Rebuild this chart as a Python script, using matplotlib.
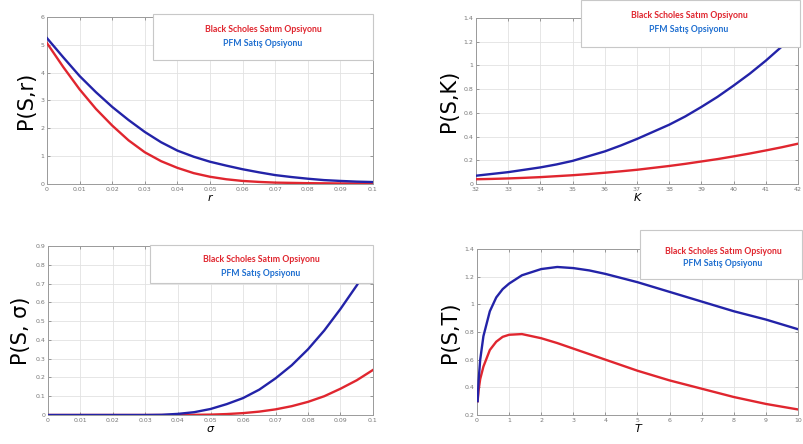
import matplotlib.pyplot as plt
from matplotlib.patches import Rectangle

W, H = 804, 444

# --- data ---
r_vals = [0, 0.005, 0.01, 0.015, 0.02, 0.025, 0.03, 0.035, 0.04, 0.045, 0.05,
          0.055, 0.06, 0.065, 0.07, 0.075, 0.08, 0.085, 0.09, 0.095, 0.1]
bs_r = [5.06, 4.2, 3.4, 2.7, 2.1, 1.57, 1.14, 0.82, 0.58, 0.39, 0.26,
        0.17, 0.11, 0.075, 0.05, 0.04, 0.03, 0.025, 0.02, 0.02, 0.02]
pfm_r = [5.24, 4.55, 3.88, 3.3, 2.77, 2.3, 1.87, 1.5, 1.2, 0.98, 0.8,
         0.66, 0.53, 0.42, 0.32, 0.25, 0.19, 0.14, 0.11, 0.085, 0.07]

K_vals = [32, 32.5, 33, 33.5, 34, 34.5, 35, 35.5, 36, 36.5, 37,
          37.5, 38, 38.5, 39, 39.5, 40, 40.5, 41, 41.5, 42]
bs_K = [0.04, 0.043, 0.047, 0.052, 0.058, 0.066, 0.074, 0.084, 0.095, 0.107, 0.12,
        0.136, 0.152, 0.17, 0.19, 0.21, 0.233, 0.257, 0.283, 0.31, 0.34]
pfm_K = [0.07, 0.085, 0.1, 0.12, 0.14, 0.165, 0.195, 0.235, 0.275, 0.325, 0.38,
         0.44, 0.5, 0.57, 0.65, 0.735, 0.83, 0.93, 1.04, 1.16, 1.29]

s_vals = [0, 0.01, 0.02, 0.03, 0.035, 0.04, 0.045, 0.05, 0.055, 0.06, 0.065,
          0.07, 0.075, 0.08, 0.085, 0.09, 0.095, 0.1]
bs_s = [0, 0, 0, 0, 0, 0, 0.001, 0.002, 0.005, 0.01, 0.018,
        0.03, 0.047, 0.07, 0.1, 0.14, 0.185, 0.24]
pfm_s = [0, 0, 0, 0, 0.001, 0.006, 0.015, 0.032, 0.058, 0.09, 0.135,
         0.195, 0.265, 0.35, 0.45, 0.565, 0.69, 0.83]

T_vals = [0.02, 0.05, 0.1, 0.2, 0.4, 0.6, 0.8, 1, 1.4, 2, 2.5, 3, 3.5, 4, 4.5,
          5, 5.5, 6, 6.5, 7, 7.5, 8, 8.5, 9, 9.5, 10]
bs_T = [0.3, 0.38, 0.46, 0.55, 0.67, 0.73, 0.765, 0.78, 0.785, 0.755, 0.72,
        0.68, 0.64, 0.6, 0.56, 0.52, 0.485, 0.45, 0.42, 0.39, 0.36, 0.33,
        0.305, 0.28, 0.26, 0.24]
pfm_T = [0.3, 0.45, 0.6, 0.77, 0.95, 1.05, 1.11, 1.15, 1.21, 1.255, 1.27,
         1.262, 1.245, 1.22, 1.19, 1.16, 1.125, 1.09, 1.055, 1.02, 0.985,
         0.95, 0.92, 0.89, 0.855, 0.82]

legend_bs = 'Black Scholes Satım Opsiyonu'
legend_pfm = 'PFM Satış Opsiyonu'

RED = '#e0262f'
BLUE = '#2323a8'
TXT_BLUE = '#1f6fd0'

fig = plt.figure(figsize=(W / 100, H / 100), dpi=100)


def px_axes(x0, y0, x1, y1):
    return fig.add_axes([x0 / W, 1 - y1 / H, (x1 - x0) / W, (y1 - y0) / H])


def legend_box(x0, y0, x1, y1, y_red, y_blue, xc):
    fig.patches.append(Rectangle((x0 / W, 1 - y1 / H), (x1 - x0) / W, (y1 - y0) / H,
                                 transform=fig.transFigure, facecolor='white',
                                 edgecolor='#c8c8c8', lw=0.8, zorder=5))
    fig.text(xc / W, 1 - y_red / H, legend_bs, color=RED, fontsize=6.3,
             fontweight='bold', family='Lato', ha='center', va='center', zorder=6)
    fig.text(xc / W, 1 - y_blue / H, legend_pfm, color=TXT_BLUE, fontsize=6.3,
             fontweight='bold', family='Lato', ha='center', va='center', zorder=6)


def style(ax, xlabel, ylabel):
    ax.grid(True, color='#e2e2e2', lw=0.6)
    ax.set_axisbelow(True)
    for sp in ax.spines.values():
        sp.set_color('#9a9a9a')
        sp.set_linewidth(0.7)
    ax.tick_params(direction='in', length=2.5, width=0.5, labelsize=4.5,
                   colors='#777777', pad=2, top=True, right=True)
    ax.set_xlabel(xlabel, fontsize=8, style='italic', labelpad=1)
    ax.set_ylabel(ylabel, fontsize=15, labelpad=3)


def curves(ax, x, bs, pfm):
    ax.plot(x, bs, color=RED, lw=1.7, zorder=3)
    ax.plot(x, pfm, color=BLUE, lw=1.7, zorder=3)


# top left
ax1 = px_axes(47, 17, 373, 184)
curves(ax1, r_vals, bs_r, pfm_r)
ax1.set_xlim(0, 0.1)
ax1.set_ylim(0, 6)
ax1.set_xticks([i / 100 for i in range(11)])
ax1.set_xticklabels(['0'] + [f'0.{i:02d}' for i in range(1, 10)] + ['0.1'])
ax1.set_yticks(range(7))
style(ax1, 'r', 'P(S,r)')

# top right
ax2 = px_axes(476, 18, 798, 184)
curves(ax2, K_vals, bs_K, pfm_K)
ax2.set_xlim(32, 42)
ax2.set_ylim(0, 1.4)
ax2.set_xticks(range(32, 43))
ax2.set_yticks([0, 0.2, 0.4, 0.6, 0.8, 1, 1.2, 1.4])
ax2.set_yticklabels(['0', '0.2', '0.4', '0.6', '0.8', '1', '1.2', '1.4'])
style(ax2, 'K', 'P(S,K)')

# bottom left
ax3 = px_axes(48, 246, 373, 415)
curves(ax3, s_vals, bs_s, pfm_s)
ax3.set_xlim(0, 0.1)
ax3.set_ylim(0, 0.9)
ax3.set_xticks([i / 100 for i in range(11)])
ax3.set_xticklabels(['0'] + [f'0.{i:02d}' for i in range(1, 10)] + ['0.1'])
ax3.set_yticks([i / 10 for i in range(10)])
ax3.set_yticklabels(['0'] + [f'0.{i}' for i in range(1, 10)])
style(ax3, 'σ', 'P(S, σ)')

# bottom right
ax4 = px_axes(477, 249, 798, 415)
curves(ax4, T_vals, bs_T, pfm_T)
ax4.set_xlim(0, 10)
ax4.set_ylim(0.2, 1.4)
ax4.set_xticks(range(11))
ax4.set_yticks([0.2, 0.4, 0.6, 0.8, 1, 1.2, 1.4])
ax4.set_yticklabels(['0.2', '0.4', '0.6', '0.8', '1', '1.2', '1.4'])
style(ax4, 'T', 'P(S,T)')

legend_box(153, 14, 373, 60, 29, 43, 263)
legend_box(581, 0, 800, 47, 15, 29, 689)
legend_box(150, 245, 373, 283, 259, 273, 261)
legend_box(640, 230, 802, 279, 251, 263, 723)

fig.savefig('out.png', dpi=100)
